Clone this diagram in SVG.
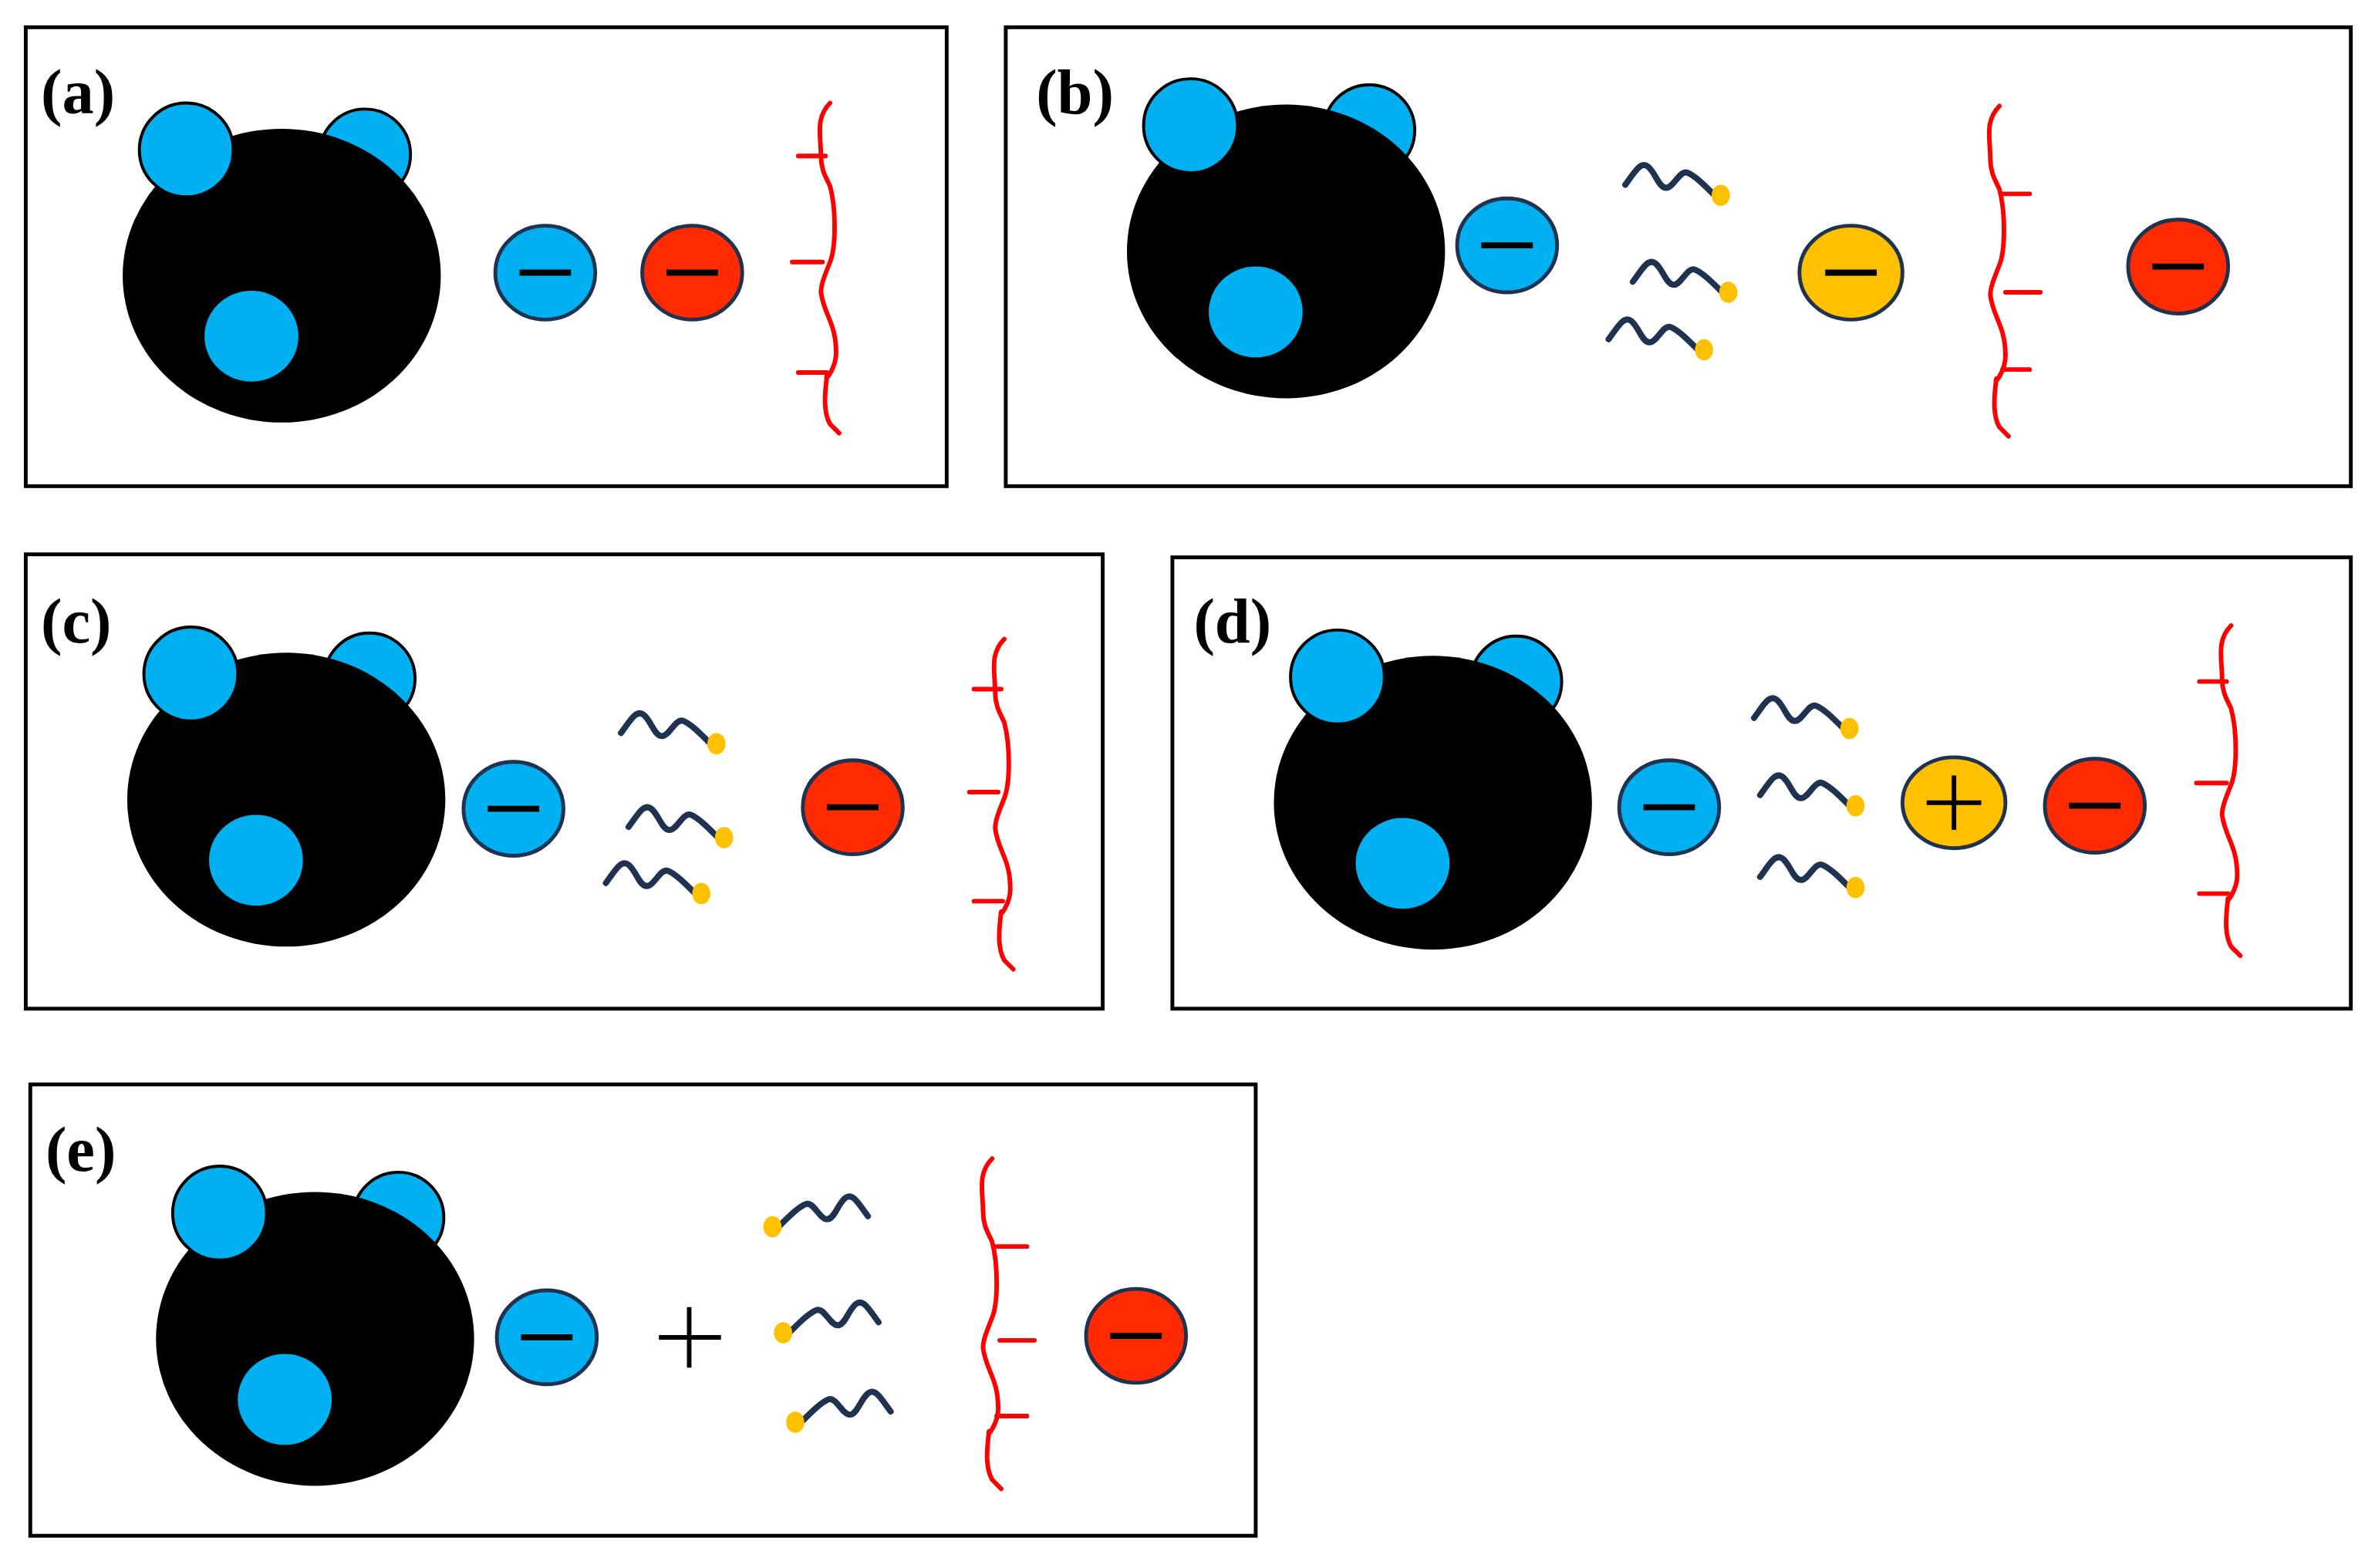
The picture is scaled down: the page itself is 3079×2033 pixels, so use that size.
<svg xmlns="http://www.w3.org/2000/svg" xmlns:xlink="http://www.w3.org/1999/xlink" width="3079" height="2033" viewBox="0 0 3079 2033">
<style>
.box{fill:#fff;stroke:#000;stroke-width:2.5}
.lbl{font-family:"Liberation Serif",serif;font-weight:bold;font-size:42px;fill:#000}
.bl{fill:#00b0f0}
.ion{stroke:#1f3350;stroke-width:2.5}
.minus{stroke:#000;stroke-width:4}
.chain{fill:none;stroke:#ff0000;stroke-width:3;stroke-linecap:round;stroke-linejoin:round}
.surf{fill:none;stroke:#1f3350;stroke-width:4;stroke-linejoin:round;stroke-linecap:round}
.dot{fill:#ffc000}
</style>
<defs>
<g id="np">
<ellipse class="bl" cx="55" cy="-80" rx="30" ry="30" style="stroke:#000;stroke-width:2"/>
<ellipse cx="0" cy="0" rx="105" ry="97" fill="#000"/>
<ellipse class="bl" cx="-63" cy="-83" rx="31" ry="31" style="stroke:#000;stroke-width:2"/>
<ellipse class="bl" cx="-20" cy="40" rx="31" ry="30"/>
</g>
<g id="ionB"><ellipse class="ion" fill="#00b0f0" rx="33" ry="31"/><line class="minus" x1="-17" x2="17" y1="0" y2="0"/></g>
<g id="ionR"><ellipse class="ion" fill="#ff2a00" rx="33" ry="31"/><line class="minus" x1="-17" x2="17" y1="0" y2="0"/></g>
<g id="ionY"><ellipse class="ion" fill="#ffc000" rx="34" ry="31"/><line class="minus" x1="-17" x2="17" y1="0" y2="0"/></g>
<g id="surf"><path class="surf" d="M0,6 C6,-2 10,-10 15,-6 C20,-2 22,8 27,8 C32,8 36,-4 41,-2 C46,0 52,6 58,12"/><ellipse class="dot" cx="63" cy="13" rx="6" ry="7"/></g>
<g id="surfL"><path class="surf" d="M64,6 C58,-2 54,-10 49,-6 C44,-2 42,8 37,8 C32,8 28,-4 23,-2 C18,0 12,6 6,12"/><ellipse class="dot" cx="1" cy="13" rx="6" ry="7"/></g>
<path id="chainL" class="chain" d="M0,0 C-10,10 -6,22 -6,35 C-6,45 -2,50 0,55 C4,70 4,95 0,105 C-4,115 -6,120 -6,125 C-4,140 4,145 4,165 C4,175 -4,185 -2,180 C-4,195 -4,205 0,212 L6,218"/>
</defs>
<g transform="scale(1.9637)">
<g id="panel-a">
<rect class="box" x="17" y="18" width="608" height="303"/>
<text class="lbl" x="27" y="75">(a)</text>
<use xlink:href="#np" x="186" y="182"/>
<use xlink:href="#ionB" x="360" y="180"/>
<use xlink:href="#ionR" x="457" y="180"/>
<use xlink:href="#chainL" x="548" y="68"/>
<path class="chain" d="M527,103H545M523,173H543M527,246H546"/>
</g>
<g id="panel-b">
<rect class="box" x="664" y="18" width="888" height="303"/>
<text class="lbl" x="684" y="75">(b)</text>
<use xlink:href="#np" x="849" y="166"/>
<use xlink:href="#ionB" x="995" y="162"/>
<use xlink:href="#surf" x="1073" y="116"/>
<use xlink:href="#surf" x="1078" y="180"/>
<use xlink:href="#surf" x="1062" y="218"/>
<use xlink:href="#ionY" x="1222" y="180"/>
<use xlink:href="#chainL" x="1320" y="70"/>
<path class="chain" d="M1322,128H1340M1324,193H1347M1322,244H1340"/>
<use xlink:href="#ionR" x="1438" y="176"/>
</g>
<g id="panel-c">
<rect class="box" x="17" y="366" width="711" height="300"/>
<text class="lbl" x="27" y="424">(c)</text>
<use xlink:href="#np" x="189" y="528"/>
<use xlink:href="#ionB" x="339" y="534"/>
<use xlink:href="#surf" x="410" y="478"/>
<use xlink:href="#surf" x="415" y="540"/>
<use xlink:href="#surf" x="400" y="577"/>
<use xlink:href="#ionR" x="563" y="533"/>
<use xlink:href="#chainL" x="663" y="422"/>
<path class="chain" d="M643,455H661M640,523H659M643,595H662"/>
</g>
<g id="panel-d">
<rect class="box" x="774" y="368" width="778" height="298"/>
<text class="lbl" x="788" y="424">(d)</text>
<use xlink:href="#np" x="946" y="530"/>
<use xlink:href="#ionB" x="1102" y="533"/>
<use xlink:href="#surf" x="1158" y="468"/>
<use xlink:href="#surf" x="1162" y="519"/>
<use xlink:href="#surf" x="1162" y="573"/>
<g><ellipse class="ion" fill="#ffc000" cx="1290" cy="530" rx="34" ry="30"/><path d="M1272,530H1308M1290,512V548" stroke="#000" stroke-width="3"/></g>
<use xlink:href="#ionR" x="1383" y="532"/>
<use xlink:href="#chainL" x="1473" y="413"/>
<path class="chain" d="M1452,450H1470M1450,517H1470M1452,590H1471"/>
</g>
<g id="panel-e">
<rect class="box" x="20" y="716" width="809" height="298"/>
<text class="lbl" x="30" y="773">(e)</text>
<use xlink:href="#np" x="208" y="884"/>
<use xlink:href="#ionB" x="361" y="883"/>
<path d="M435,883H476M455,863V903" stroke="#000" stroke-width="3"/>
<use xlink:href="#surfL" x="509" y="797"/>
<use xlink:href="#surfL" x="516" y="867"/>
<use xlink:href="#surfL" x="524" y="926"/>
<use xlink:href="#chainL" x="655" y="765"/>
<path class="chain" d="M658,823H678M660,885H683M658,935H678"/>
<use xlink:href="#ionR" x="750" y="882"/>
</g>
</g>
</svg>
